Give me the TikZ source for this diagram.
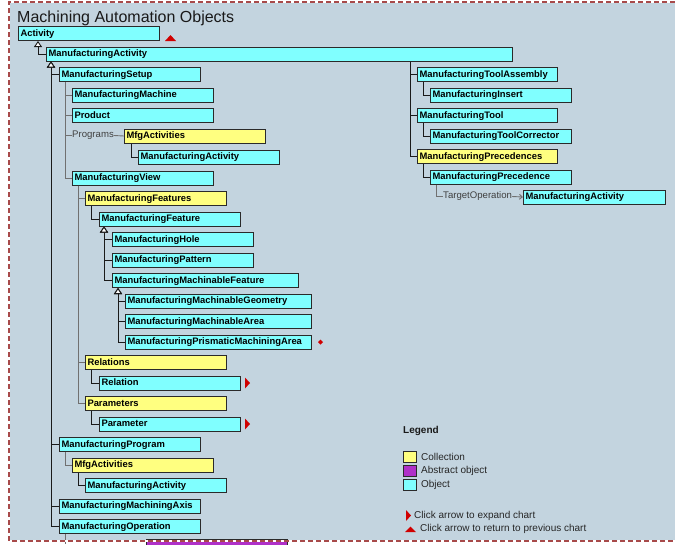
\documentclass[tikz,border=0pt]{standalone}
\usepackage{xcolor}
\usepackage{fontspec}
\setmainfont{Liberation Sans}
\usepackage{tikz}
\usetikzlibrary{positioning, arrows.meta}
\definecolor{bgblue}{HTML}{C3D4DF}
\definecolor{objcyan}{HTML}{80FFFF}
\definecolor{collyellow}{HTML}{FFFF80}
\definecolor{abstractpurple}{HTML}{B030C8}
\definecolor{boxline}{HTML}{2A2A2A}
\definecolor{darkline}{HTML}{1A1A1A}
\definecolor{grayline}{HTML}{707070}
\definecolor{markred}{HTML}{D00000}
\definecolor{borderred}{HTML}{A84A4A}

\tikzset{
    box/.style={anchor=north west, draw=boxline, line width=1pt, inner xsep=2pt, inner ysep=0pt,
        minimum height=14pt, text height=7pt, text depth=2pt, text width=#1-5pt,
        font=\fontsize{9.4}{11}\selectfont\bfseries},
    obj/.style={box=#1, fill=objcyan},
    obj/.default=142pt,
    coll/.style={box=#1, fill=collyellow},
    coll/.default=142pt,
    link/.style={draw=darkline, line width=0.9pt},
    prop/.style={draw=grayline, line width=0.9pt},
    isa/.style={link, {Triangle[fill=white, length=6pt, width=8pt]}-},
    lbl/.style={anchor=west, inner sep=0pt, text=black!75, font=\fontsize{9.6}{11}\selectfont},
    legendtxt/.style={anchor=west, inner sep=0pt, text=black!85, font=\fontsize{10}{12}\selectfont},
    swatch/.style={anchor=north west, draw=boxline, line width=0.9pt, minimum width=13pt,
        minimum height=11pt, inner sep=0pt},
}

\begin{document}
\begin{tikzpicture}[x=1pt, y=-1pt]
    \useasboundingbox (0,0) rectangle (675,544);
    \fill[bgblue] (9,2) rectangle (675,541);

    \node[anchor=base west, inner sep=0pt, text=black!90, font=\fontsize{16}{19}\selectfont]
        (title) at (17,22) {Machining Automation Objects};

    \node[obj] (activity) at (18,26) {Activity};
    \node[obj=467pt] (mfgact) at (46,46.5) {ManufacturingActivity};
    \node[obj] (setup) at (59,67) {ManufacturingSetup};
    \node[obj] (machine) at (72,87.5) {ManufacturingMachine};
    \node[obj] (product) at (72,108) {Product};
    \node[lbl] (programs) at (72,135.5) {Programs};
    \node[coll] (mfgacts) at (124,128.5) {MfgActivities};
    \node[obj] (mfgactA) at (138,149.5) {ManufacturingActivity};
    \node[obj] (view) at (72,170.5) {ManufacturingView};
    \node[coll] (features) at (85,191) {ManufacturingFeatures};
    \node[obj] (feature) at (99,211.5) {ManufacturingFeature};
    \node[obj] (hole) at (112,232) {ManufacturingHole};
    \node[obj] (pattern) at (112,252.5) {ManufacturingPattern};
    \node[obj=187pt] (machfeat) at (112,273) {ManufacturingMachinableFeature};
    \node[obj=187pt] (machgeom) at (125,293.5) {ManufacturingMachinableGeometry};
    \node[obj=187pt] (macharea) at (125,314) {ManufacturingMachinableArea};
    \node[obj=187pt] (prisarea) at (125,334.5) {ManufacturingPrismaticMachiningArea};
    \node[coll] (relations) at (85,355) {Relations};
    \node[obj] (relation) at (99,375.5) {Relation};
    \node[coll] (parameters) at (85,396) {Parameters};
    \node[obj] (parameter) at (99,416.5) {Parameter};
    \node[obj] (program) at (59,437) {ManufacturingProgram};
    \node[coll] (progacts) at (72,457.5) {MfgActivities};
    \node[obj] (progactA) at (85,478) {ManufacturingActivity};
    \node[obj] (axis) at (59,498.5) {ManufacturingMachiningAxis};
    \node[obj] (operation) at (59,519) {ManufacturingOperation};
    \node[box=142pt, fill=abstractpurple] (copyop) at (146,539) {};
    \coordinate (opend) at (65,544);

    \node[obj=141pt] (toolasm) at (417,67) {ManufacturingToolAssembly};
    \node[obj] (insert) at (430,87.5) {ManufacturingInsert};
    \node[obj=141pt] (tool) at (417,108) {ManufacturingTool};
    \node[obj] (corrector) at (430,128.5) {ManufacturingToolCorrector};
    \node[coll=141pt] (precs) at (417,149) {ManufacturingPrecedences};
    \node[obj] (prec) at (430,169.5) {ManufacturingPrecedence};
    \node[lbl] (target) at (443,196.5) {TargetOperation};
    \node[obj=143pt] (targetact) at (523,189.5) {ManufacturingActivity};

    \draw[isa] ([xshift=20pt]activity.south west) |- (mfgact.west);
    \foreach \n in {setup, program, axis, operation}
        \draw[isa] ([xshift=5pt]mfgact.south west) |- (\n.west);
    \foreach \n in {toolasm, tool, precs}
        \draw[link] ([xshift=364pt]mfgact.south west) |- (\n.west);
    \foreach \n in {machine, product, programs, view}
        \draw[prop] ([xshift=6pt]setup.south west) |- (\n.west);
    \draw[prop] (programs.east) -- (mfgacts.west);
    \draw[link] ([xshift=7pt]mfgacts.south west) |- (mfgactA.west);
    \foreach \n in {features, relations, parameters}
        \draw[prop] ([xshift=6pt]view.south west) |- (\n.west);
    \draw[link] ([xshift=6pt]features.south west) |- (feature.west);
    \foreach \n in {hole, pattern, machfeat}
        \draw[isa] ([xshift=5pt]feature.south west) |- (\n.west);
    \foreach \n in {machgeom, macharea, prisarea}
        \draw[isa] ([xshift=6pt]machfeat.south west) |- (\n.west);
    \draw[link] ([xshift=6pt]relations.south west) |- (relation.west);
    \draw[link] ([xshift=6pt]parameters.south west) |- (parameter.west);
    \draw[prop] ([xshift=6pt]program.south west) |- (progacts.west);
    \draw[link] ([xshift=6pt]progacts.south west) |- (progactA.west);
    \draw[prop] ([xshift=6pt]operation.south west) -- (opend);
    \draw[link] ([xshift=6pt]toolasm.south west) |- (insert.west);
    \draw[link] ([xshift=6pt]tool.south west) |- (corrector.west);
    \draw[link] ([xshift=6pt]precs.south west) |- (prec.west);
    \draw[prop] ([xshift=6pt]prec.south west) |- (target.west);
    \draw[prop, -{Straight Barb[length=3pt, width=5pt]}] (target.east) -- (targetact.west);

    \fill[markred] ([xshift=5pt]activity.south east) -- ++(11,0) -- ++(-5.5,-6) -- cycle;
    \fill[markred] ([xshift=6pt]prisarea.east) -- ++(2.5,-2.5) -- ++(2.5,2.5) -- ++(-2.5,2.5) -- cycle;
    \fill[markred] ([xshift=4pt]relation.east) ++(0,-5.5) -- ++(5,5.5) -- ++(-5,5.5) -- cycle;
    \fill[markred] ([xshift=4pt]parameter.east) ++(0,-5.5) -- ++(5,5.5) -- ++(-5,5.5) -- cycle;

    \node[anchor=base west, inner sep=0pt, text=black!90, font=\fontsize{10}{12}\selectfont\bfseries]
        (legend) at (403,433) {Legend};
    \node[swatch, fill=collyellow] (swcoll) at (403,451) {};
    \node[legendtxt] at ([xshift=4pt]swcoll.east) {Collection};
    \node[swatch, fill=abstractpurple] (swabs) at (403,465) {};
    \node[legendtxt] at ([xshift=4pt]swabs.east) {Abstract object};
    \node[swatch, fill=objcyan] (swobj) at (403,479) {};
    \node[legendtxt] at ([xshift=4pt]swobj.east) {Object};
    \fill[markred] (406,510) -- (411,515.5) -- (406,521) -- cycle;
    \node[legendtxt] at (414,516) {Click arrow to expand chart};
    \fill[markred] (405,532) -- (416,532) -- (410.5,526.5) -- cycle;
    \node[legendtxt] at (420,528.5) {Click arrow to return to previous chart};

    \draw[white, line width=2pt] (675,2) -- (9,2) -- (9,541) -- (675,541);
    \draw[borderred, line width=2pt, dash pattern=on 5pt off 3pt] (675,2) -- (9,2) -- (9,541) -- (675,541);
\end{tikzpicture}
\end{document}
